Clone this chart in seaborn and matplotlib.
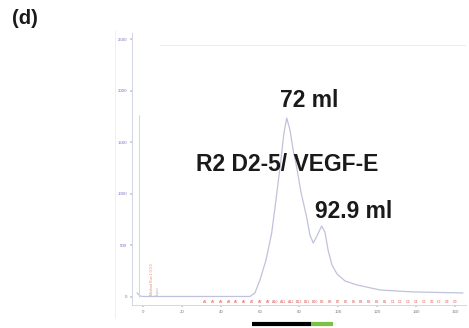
import matplotlib
matplotlib.use("Agg")
import matplotlib.pyplot as plt
import matplotlib.transforms as mtransforms
import seaborn as sns
import pandas as pd

# elution trace (ml, mAU)
volume_ml = [-3.0, -1.5, 0.0, 10.0, 30.0, 50.0, 54.9, 57.4, 60.0, 63.1, 66.0, 68.2,
             70.3, 72.3, 73.7, 75.4, 77.0, 78.8, 81.0, 83.9, 85.6, 87.3, 89.2,
             91.6, 93.3, 94.9, 96.9, 99.5, 103.6, 109.7, 121.5, 138.5, 164.1]
absorbance = [40, 10, 5, 5, 5, 5, 5, 39, 165, 359, 621, 942,
              1262, 1592, 1738, 1621, 1427, 1262, 1020, 777, 602, 524, 592,
              689, 631, 456, 311, 223, 155, 117, 68, 49, 39]

x_ticks = [0, 20, 40, 60, 80, 100, 120, 140, 160]
y_ticks = [0, 500, 1000, 1500, 2000, 2500]

# fraction marks along the baseline
frac_vol = [32, 36, 40, 44, 48, 52, 56, 60, 64, 68, 72, 76, 80, 84, 88, 92, 96,
            100, 104, 108, 112, 116, 120, 124, 128, 132, 136, 140, 144, 148,
            152, 156, 160]
frac_lab = ["A1", "A2", "A3", "A4", "A5", "A6", "A7", "A8", "A9", "A10", "A11",
            "A12", "B12", "B11", "B10", "B9", "B8", "B7", "B6", "B5", "B4", "B3",
            "B2", "B1", "C1", "C2", "C3", "C4", "C5", "C6", "C7", "C8", "C9"]

# pooled fractions bar under the axis (ml)
pool_black = [56, 86]
pool_green = [86, 97.5]

df = pd.DataFrame({"ml": volume_ml, "mAU": absorbance})

sns.set_theme(style="white")
plt.rcParams["font.family"] = ["Liberation Sans", "DejaVu Sans"]

fig = plt.figure(figsize=(4.69, 3.28), dpi=100)
ax = fig.add_axes([0.2814, 0.0701, 0.7122, 0.8293])

sns.lineplot(data=df, x="ml", y="mAU", ax=ax, color="#bfc2dc", linewidth=0.9,
             sort=False, estimator=None)

# injection mark and top reference line
ax.plot([-1.8, -1.8], [0, 1767], color="#d6d6d6", linewidth=0.7)
ax.plot([9, 165], [2450, 2450], color="#f0eee2", linewidth=0.8)

ax.text(4.5, 20, "Method Run 1.0.0.0", rotation=90, fontsize=2.6,
        color="#e08a6a", ha="center", va="bottom")
ax.text(7.8, 20, "Inject", rotation=90, fontsize=2.6,
        color="#b0a8a0", ha="center", va="bottom")

for v, lab in zip(frac_vol, frac_lab):
    ax.text(v, -45, lab, fontsize=2.6, color="#e06060", ha="center", va="center")

ax.set_xlim(-5.6, 165.6)
ax.set_ylim(-78, 2563)
ax.set_xticks(x_ticks)
ax.set_yticks(y_ticks)
ax.tick_params(axis="x", labelsize=3.2, labelcolor="#808080", length=1.5,
               color="#cccccc", pad=2, bottom=True)
ax.tick_params(axis="y", labelsize=3.2, labelcolor="#7a7ac8", length=1.5,
               color="#cccccc", pad=2, left=True)
ax.set_xlabel("")
ax.set_ylabel("")
for side in ["top", "right"]:
    ax.spines[side].set_visible(False)
ax.spines["left"].set_color("#d0d4e4")
ax.spines["bottom"].set_color("#d8d8d8")
ax.spines["left"].set_linewidth(0.7)
ax.spines["bottom"].set_linewidth(0.7)

# faint outer frame at far left
fig.add_artist(plt.Line2D([115 / 469, 115 / 469], [0.03, 0.91],
                          color="#ececf4", linewidth=0.6))

ax.text(85.0, 1908, "72 ml", fontsize=16.5, fontweight="bold", ha="center",
        va="center", color="#1a1a1a")
ax.text(74.1, 1282, "R2 D2-5/ VEGF-E", fontsize=16.5, fontweight="bold",
        ha="center", va="center", color="#1a1a1a")
ax.text(108, 830, "92.9 ml", fontsize=16.5, fontweight="bold", ha="center",
        va="center", color="#1a1a1a")

fig.text(12 / 469, 1 - 19 / 328, "(d)", fontsize=14.5, fontweight="bold",
         ha="left", va="center", color="#1a1a1a")

trans = mtransforms.blended_transform_factory(ax.transData, fig.transFigure)
ax.plot(pool_black, [0.0122, 0.0122], color="black", linewidth=3.0,
        transform=trans, clip_on=False, solid_capstyle="butt")
ax.plot(pool_green, [0.0122, 0.0122], color="#7cc242", linewidth=3.0,
        transform=trans, clip_on=False, solid_capstyle="butt")

fig.savefig("out.png", dpi=100)
